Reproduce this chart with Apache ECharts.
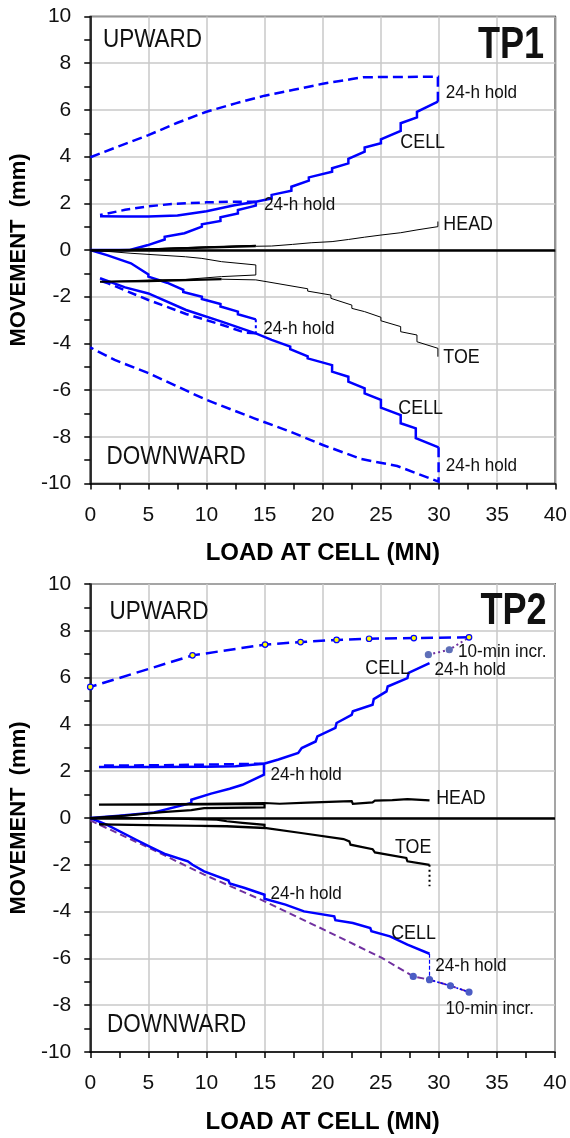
<!DOCTYPE html>
<html>
<head>
<meta charset="utf-8">
<script src="https://cdn.jsdelivr.net/npm/echarts@6/dist/echarts.min.js"></script>
<style>
  html, body { margin: 0; padding: 0; background: #fff; }
  #chart { width: 570px; height: 1138px; }
</style>
</head>
<body>
<div id="chart"></div>
<script>
// Axis ticks (MN and mm)
const loadTicks = [0, 5, 10, 15, 20, 25, 30, 35, 40];
const moveTicks = [-10, -8, -6, -4, -2, 0, 2, 4, 6, 8, 10];

// ---------- TP1 : load at cell (MN) vs movement (mm) ----------
const tp1CellUpLoad = [[0,0],[3.4,0.0],[4.9,0.2],[4.9,0.28],[6.4,0.45],[6.4,0.57],[8.1,0.72],[8.1,0.8],[9.6,1.0],[9.6,1.1],[11.2,1.24],[11.2,1.4],[12.7,1.56],[12.7,1.71],[14.24,1.9],[14.24,2.07]];
const tp1CellUpUnload1 = [[14.24,2.07],[12,2.07],[10,2.04],[7,1.97],[5,1.87],[3,1.72],[0.84,1.5]];
const tp1CellUpReload = [[0.84,1.45],[3,1.43],[5,1.43],[7.5,1.48],[10,1.66],[12.4,1.92],[14.24,2.07],[15.6,2.21],[15.6,2.36],[17.3,2.54],[17.3,2.71],[18.8,2.97],[18.8,3.11],[20.8,3.35],[20.8,3.5],[22.2,3.71],[22.2,3.9],[23.6,4.21],[23.6,4.39],[25.0,4.57],[25.0,4.74],[26.7,5.1],[26.7,5.43],[28.1,5.68],[28.1,5.92],[29.9,6.35]];
const tp1CellUpUnload2 = [[29.9,6.35],[29.9,7.42],[23.5,7.4],[22.5,7.32],[20,7.12],[17.5,6.86],[15,6.61],[12.5,6.28],[10,5.92],[7.5,5.45],[5,4.92],[2.5,4.45],[0,3.97]];
const tp1HeadCycle1 = [[0,0],[3.5,0.03],[7,0.08],[10.5,0.13],[14.24,0.2],[14.24,0.25],[10,0.14],[6,0.06],[3.5,0.02],[0.84,-0.02]];
const tp1HeadReload1 = [[0.84,-0.02],[3.5,0.0],[7,0.06],[10.5,0.11],[14.24,0.16]];
const tp1HeadReload2 = [[14.24,0.16],[15.6,0.17],[15.6,0.2],[17.4,0.24],[17.4,0.27],[19,0.31],[20.8,0.36],[20.8,0.4],[22.2,0.45],[22.2,0.5],[23.6,0.55],[23.6,0.6],[25,0.64],[25,0.68],[26.7,0.74],[26.7,0.8],[28.1,0.86],[28.1,0.92],[29.9,1.0],[29.9,1.22]];
const tp1ToeCycle1 = [[0,0],[3.5,-0.14],[8.2,-0.29],[9.6,-0.36],[11.3,-0.5],[14.24,-0.64],[14.24,-1.07],[11.3,-1.14],[8.2,-1.26],[5.4,-1.28],[0.84,-1.36]];
const tp1ToeReload1 = [[0.84,-1.36],[5,-1.33],[11.3,-1.25]];
const tp1ToeReload2 = [[11.3,-1.25],[14.24,-1.28],[15.2,-1.36],[18.7,-1.66],[18.7,-1.76],[20.7,-1.93],[20.7,-2.07],[22.5,-2.36],[22.5,-2.5],[23.6,-2.64],[25,-2.88],[25,-3.03],[26.7,-3.28],[26.7,-3.5],[28.1,-3.64],[28.1,-3.93],[29.9,-4.21],[29.9,-4.57]];
const tp1CellDownLoad = [[0,0],[1.5,-0.23],[3.5,-0.57],[3.5,-0.65],[5,-1.05],[5,-1.14],[6.6,-1.4],[8,-1.71],[8,-1.8],[9.6,-2.0],[9.6,-2.1],[11.2,-2.31],[11.2,-2.42],[12.7,-2.64],[12.7,-2.75],[14.24,-2.97]];
const tp1CellDownHold1 = [[14.24,-2.97],[14.24,-3.57]];
const tp1CellDownUnload1 = [[14.24,-3.57],[13.3,-3.54],[11.3,-3.2],[8.24,-2.74],[5,-2.14],[1.54,-1.43],[0.84,-1.31]];
const tp1CellDownReload = [[0.84,-1.21],[3,-1.6],[5,-1.86],[5,-1.92],[8.24,-2.57],[8.24,-2.65],[11.3,-3.07],[11.3,-3.15],[14.24,-3.57],[15.6,-3.85],[17.2,-4.14],[17.2,-4.25],[18.7,-4.55],[18.7,-4.64],[20.8,-4.93],[20.8,-5.21],[22.2,-5.43],[22.2,-5.64],[23.6,-5.92],[23.6,-6.14],[25.0,-6.42],[25.0,-6.75],[26.7,-7.07],[26.7,-7.42],[28.0,-7.64],[28.0,-8.06],[29.96,-8.45]];
const tp1CellDownUnload2 = [[29.96,-8.45],[29.96,-9.92],[26.4,-9.25],[23.3,-8.95],[20,-8.35],[17.2,-7.78],[14.1,-7.21],[9.9,-6.4],[4.9,-5.25],[2.1,-4.71],[0,-4.17]];

// ---------- TP2 ----------
const tp2CellUpLoad = [[0,0],[2.5,0.1],[5.5,0.24],[5.5,0.3],[8.7,0.64],[8.7,0.78],[10.4,1.04],[12,1.25],[13.1,1.42],[14.95,1.85],[14.95,2.32]];
const tp2CellUpUnload1 = [[14.95,2.32],[10,2.28],[5,2.25],[0.75,2.24]];
const tp2CellUpReload = [[0.75,2.18],[5,2.18],[10,2.19],[12.5,2.21],[14.95,2.32],[16.2,2.5],[16.2,2.56],[17.9,2.78],[18.2,2.99],[19.4,3.27],[19.55,3.49],[21.1,3.85],[21.2,4.06],[22.5,4.41],[22.6,4.56],[24.3,4.84],[24.4,5.08],[25.5,5.41],[25.6,5.62],[27.3,5.98],[27.4,6.2],[29.2,6.62]];
const tp2CellUpIncr = [[29.1,6.98],[30.9,7.19],[32.6,7.72]];
const tp2CellUpUnload2 = [[32.6,7.72],[27.85,7.69],[24.0,7.66],[21.2,7.61],[18.1,7.52],[15.05,7.41],[8.8,6.95],[0,5.6]];
const tp2Head = [[0,0],[3,0.1],[5.5,0.22],[6.2,0.25],[8.7,0.34],[9.8,0.42],[15,0.45],[15,0.6],[10,0.58],[5,0.57],[0.75,0.57],[5,0.58],[10,0.6],[15,0.64],[16.3,0.61],[16.4,0.66],[18.7,0.66],[21.8,0.71],[22.5,0.72],[22.6,0.61],[24.3,0.67],[24.5,0.74],[26,0.76],[27.3,0.81],[29.2,0.75]];
const tp2Toe = [[0,0],[5,0.0],[10.9,-0.07],[11.75,-0.14],[13.1,-0.21],[15,-0.29],[15,-0.43],[11.75,-0.36],[5,-0.3],[0.75,-0.27],[5,-0.31],[11.75,-0.35],[15,-0.42],[18.15,-0.64],[21.8,-0.9],[22.3,-1.0],[22.4,-1.14],[24.3,-1.33],[24.5,-1.47],[27.2,-1.71],[27.3,-1.85],[29.2,-2.0]];
const tp2ToeHold = [[29.2,-2.0],[29.2,-2.92]];
const tp2CellDown = [[0,0],[1.45,-0.29],[3.95,-0.93],[5.07,-1.21],[5.1,-1.28],[6.5,-1.55],[8.4,-1.85],[8.8,-2.0],[9.8,-2.28],[11.9,-2.67],[12,-2.8],[13.3,-2.99],[15,-3.28],[15,-3.45],[16.8,-3.7],[18.4,-3.99],[21.0,-4.2],[21.1,-4.37],[22.6,-4.49],[24.1,-4.7],[24.2,-4.84],[25.8,-5.06],[27.3,-5.41],[29.2,-5.8]];
const tp2CellDownHold = [[29.2,-5.8],[29.2,-6.91]];
const tp2CellDownIncr = [[29.2,-6.91],[31.0,-7.17],[32.6,-7.44]];
const tp2CellDownRef = [[0,-0.1],[5.07,-1.28],[9.8,-2.42],[15,-3.56],[20.1,-4.77],[25.1,-5.98],[27.8,-6.77],[29.2,-6.91],[31.0,-7.17],[32.6,-7.44]];
const tp2CellDownRefMarks = [[27.8,-6.77],[29.2,-6.91],[31.0,-7.17],[32.6,-7.44]];

// Text placed on the plots: [text, load, movement, kind]
const tp1Notes = [
  ['UPWARD', 1.09, 8.99, 'side'],
  ['TP1', 39.04, 8.74, 'title'],
  ['24-h hold', 30.57, 6.72, 'hold'],
  ['CELL', 26.67, 4.6, 'tag'],
  ['24-h hold', 14.94, 1.93, 'hold'],
  ['HEAD', 30.37, 1.1, 'tag'],
  ['24-h hold', 14.88, -3.38, 'hold'],
  ['TOE', 30.37, -4.57, 'tag'],
  ['CELL', 26.5, -6.78, 'tag'],
  ['DOWNWARD', 1.4, -8.85, 'side'],
  ['24-h hold', 30.57, -9.25, 'hold']
];
const tp2Notes = [
  ['UPWARD', 1.65, 8.8, 'side'],
  ['TP2', 39.28, 8.79, 'title'],
  ['10-min incr.', 31.66, 7.12, 'hold'],
  ['CELL', 23.67, 6.41, 'tag'],
  ['24-h hold', 29.63, 6.34, 'hold'],
  ['24-h hold', 15.51, 1.85, 'hold'],
  ['HEAD', 29.77, 0.85, 'tag'],
  ['TOE', 26.23, -1.24, 'tag'],
  ['24-h hold', 15.51, -3.25, 'hold'],
  ['CELL', 25.9, -4.91, 'tag'],
  ['24-h hold', 29.7, -6.31, 'hold'],
  ['10-min incr.', 30.58, -8.16, 'hold'],
  ['DOWNWARD', 1.44, -8.87, 'side']
];

const FONT = 'Liberation Sans, Arial, Helvetica, sans-serif';
const BLUE = '#0000ff';
const PURPLE = '#7030a0';
const noteStyle = {
  side:  { fontSize: 25, fontWeight: 'normal', scaleX: 0.9, align: 'left' },
  tag:   { fontSize: 21, fontWeight: 'normal', scaleX: 0.85, align: 'left' },
  hold:  { fontSize: 19, fontWeight: 'normal', scaleX: 0.9, align: 'left' },
  title: { fontSize: 44, fontWeight: 'bold', scaleX: 0.82, align: 'right' }
};

function line(g, data, color, width, type, z, extra) {
  return Object.assign({
    type: 'line', xAxisIndex: g, yAxisIndex: g, data: data,
    symbol: 'none', showSymbol: false, smooth: false, silent: true,
    lineStyle: { color: color, width: width, type: type, cap: 'butt', join: 'miter' },
    z: z, animation: false
  }, extra || {});
}
function marks(g, data, fill, border, size, z) {
  return {
    type: 'scatter', xAxisIndex: g, yAxisIndex: g, data: data, silent: true,
    symbol: 'circle', symbolSize: size,
    itemStyle: { color: fill, borderColor: border, borderWidth: 1.2, opacity: 1 },
    z: z, animation: false
  };
}
function zeroLine() {
  return {
    silent: true, symbol: 'none', animation: false,
    label: { show: false },
    lineStyle: { color: '#000', width: 2.5, type: 'solid' },
    data: [{ yAxis: 0 }]
  };
}

function xAxisFor(g) {
  return {
    type: 'value', gridIndex: g,
    min: loadTicks[0], max: loadTicks[loadTicks.length - 1], interval: loadTicks[1] - loadTicks[0],
    name: 'LOAD AT CELL (MN)', nameLocation: 'middle', nameGap: 58,
    nameTextStyle: { fontFamily: FONT, fontWeight: 'bold', fontSize: 24, color: '#000' },
    axisLine: { show: true, onZero: false, lineStyle: { color: '#000', width: 1.5 } },
    axisTick: { show: true, length: 6, lineStyle: { color: '#000', width: 1.5 } },
    minorTick: { show: true, splitNumber: 2, length: 6, lineStyle: { color: '#000', width: 1.5 } },
    splitLine: { show: true, lineStyle: { color: '#c8c8c8', width: 1.5 } },
    axisLabel: { fontFamily: FONT, fontSize: 21, color: '#111', margin: 21, showMinLabel: true, showMaxLabel: true }
  };
}
function yAxisFor(g) {
  return {
    type: 'value', gridIndex: g,
    min: moveTicks[0], max: moveTicks[moveTicks.length - 1], interval: moveTicks[1] - moveTicks[0],
    name: 'MOVEMENT  (mm)', nameLocation: 'middle', nameGap: 48, nameRotate: 90,
    nameTextStyle: { fontFamily: FONT, fontWeight: 'bold', fontSize: 22, color: '#000' },
    axisLine: { show: true, onZero: false, lineStyle: { color: '#000', width: 1.5 } },
    axisTick: { show: true, length: 6, lineStyle: { color: '#000', width: 1.5 } },
    minorTick: { show: true, splitNumber: 2, length: 6, lineStyle: { color: '#000', width: 1.5 } },
    splitLine: { show: true, lineStyle: { color: '#c8c8c8', width: 1.5 } },
    axisLabel: { fontFamily: FONT, fontSize: 21, color: '#111', margin: 19 }
  };
}

const chart = echarts.init(document.getElementById('chart'), null, { renderer: 'canvas' });

const series = [
  // TP1 upward cell
  line(0, tp1CellUpLoad, BLUE, 2.5, 'solid', 3),
  line(0, tp1CellUpUnload1, BLUE, 2.5, [9, 5], 3),
  line(0, tp1CellUpReload, BLUE, 2.5, 'solid', 3),
  line(0, tp1CellUpUnload2, BLUE, 2.5, [10, 5], 3),
  // TP1 head and toe
  line(0, tp1HeadCycle1, '#000', 1, 'solid', 5, { markLine: zeroLine() }),
  line(0, tp1HeadReload1, '#000', 2.2, 'solid', 5),
  line(0, tp1HeadReload2, '#000', 1, 'solid', 5),
  line(0, tp1ToeCycle1, '#000', 1, 'solid', 5),
  line(0, tp1ToeReload1, '#000', 2.2, 'solid', 5),
  line(0, tp1ToeReload2, '#000', 1, 'solid', 5),
  // TP1 downward cell
  line(0, tp1CellDownLoad, BLUE, 2.5, 'solid', 3),
  line(0, tp1CellDownHold1, BLUE, 2, [3, 3], 3),
  line(0, tp1CellDownUnload1, BLUE, 2.5, [9, 5], 3),
  line(0, tp1CellDownReload, BLUE, 2.5, 'solid', 3),
  line(0, tp1CellDownUnload2, BLUE, 2.5, [10, 5], 3),

  // TP2 upward cell
  line(1, tp2CellUpLoad, BLUE, 2.5, 'solid', 3),
  line(1, tp2CellUpUnload1, BLUE, 2.5, [10, 5], 3),
  line(1, tp2CellUpReload, BLUE, 2.5, 'solid', 3),
  line(1, tp2CellUpIncr, PURPLE, 2, [2, 3], 4),
  marks(1, tp2CellUpIncr.slice(0, 2), '#5e6fb8', '#5e6fb8', 6, 6),
  line(1, tp2CellUpUnload2, BLUE, 2.5, [12, 6], 3),
  marks(1, tp2CellUpUnload2, '#ffff00', BLUE, 5.5, 6),
  // TP2 head and toe
  line(1, tp2Head, '#000', 2.2, 'solid', 5, { markLine: zeroLine() }),
  line(1, tp2Toe, '#000', 2.2, 'solid', 5),
  line(1, tp2ToeHold, '#000', 2, [2, 3], 5),
  // TP2 downward cell
  line(1, tp2CellDownRef, PURPLE, 2, [7, 4], 2),
  line(1, tp2CellDown, BLUE, 2.5, 'solid', 3),
  line(1, tp2CellDownHold, BLUE, 1.2, [4, 2], 3),
  line(1, tp2CellDownIncr, BLUE, 1.5, [2, 2], 4),
  marks(1, tp2CellDownRefMarks, '#4b5cc4', '#4b5cc4', 6, 6)
];

chart.setOption({
  backgroundColor: '#fff',
  animation: false,
  grid: [
    { left: 78, top: 16.5, width: 478, height: 467, show: true, borderColor: '#000', borderWidth: 1.5, containLabel: false },
    { left: 76, top: 584, width: 479, height: 468, show: true, borderColor: '#000', borderWidth: 1.5, containLabel: false }
  ],
  xAxis: [xAxisFor(0), xAxisFor(1)],
  yAxis: [yAxisFor(0), yAxisFor(1)],
  series: series
});

// Place the in-plot text at data positions
function noteGraphics(notes, g) {
  return notes.map(function (n) {
    const st = noteStyle[n[3]];
    const p = chart.convertToPixel({ gridIndex: g }, [n[1], n[2]]);
    return {
      type: 'text', x: p[0], y: p[1], scaleX: st.scaleX, scaleY: 1, z: 20, silent: true,
      style: {
        text: n[0], fill: '#111',
        fontFamily: FONT, fontSize: st.fontSize, fontWeight: st.fontWeight,
        align: st.align, verticalAlign: 'middle',
        textAlign: st.align, textVerticalAlign: 'middle'
      }
    };
  });
}
chart.setOption({ graphic: noteGraphics(tp1Notes, 0).concat(noteGraphics(tp2Notes, 1)) });
</script>
</body>
</html>
